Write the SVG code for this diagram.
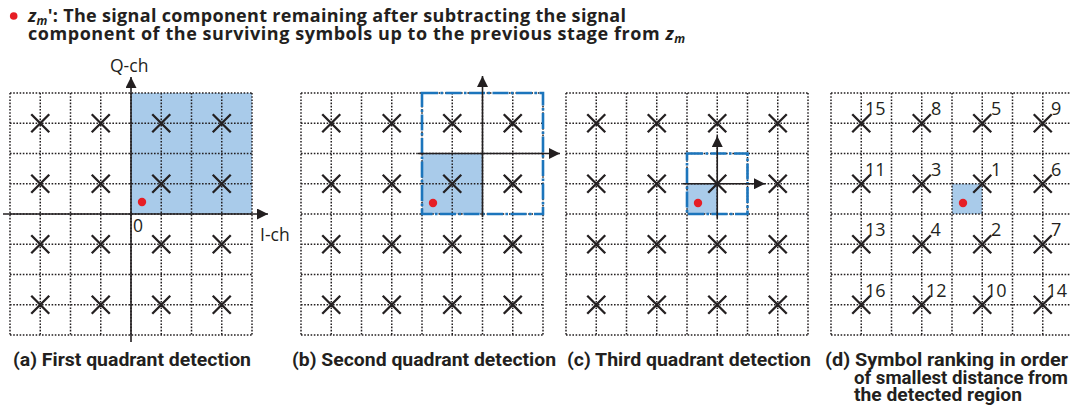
<svg xmlns="http://www.w3.org/2000/svg" xmlns:xlink="http://www.w3.org/1999/xlink" width="1070" height="415" viewBox="0 0 1070 415">
<style>
.grid{fill:none;stroke:#231f20;stroke-width:1.5;stroke-dasharray:1.6 1.6}
.sym{fill:none;stroke:#231f20;stroke-width:2.3}
.shade{fill:#a9cbea}
.sel{fill:none;stroke:#1c75bc;stroke-width:2.6;stroke-dasharray:16 2.5 2.5 2.5}
.axis{fill:none;stroke:#231f20;stroke-width:1.6}
.dot{fill:#e61e25}
.hdr{font-family:"Open Sans","Liberation Sans",sans-serif;font-weight:bold;font-size:18px;fill:#231f20}
.it{font-style:italic}
.sub{font-style:italic;font-size:12px}
.ax{font-family:"Open Sans","Liberation Sans",sans-serif;font-size:17.5px;fill:#231f20}
.num{font-family:"Open Sans","Liberation Sans",sans-serif;font-size:18px;fill:#231f20}
.cap{font-family:Roboto,"Liberation Sans",sans-serif;font-weight:bold;font-size:18px;fill:#231f20}
</style>
<defs>
<marker id="ah" viewBox="0 0 11 11" refX="11" refY="5.5" markerWidth="11" markerHeight="11" orient="auto" markerUnits="userSpaceOnUse"><path d="M0,0 L11,5.5 L0,11 z" fill="#231f20"/></marker>
<path id="grid" class="grid" d="M0,0V242M30.25,0V242M60.5,0V242M90.75,0V242M121,0V242M151.25,0V242M181.5,0V242M211.75,0V242M242,0V242M0,0H242M0,30.25H242M0,60.5H242M0,90.75H242M0,121H242M0,151.25H242M0,181.5H242M0,211.75H242M0,242H242"/>
<g id="syms">
<path class="sym" d="M21.25,21.25l18,18m0,-18l-18,18M81.75,21.25l18,18m0,-18l-18,18M142.25,21.25l18,18m0,-18l-18,18M202.75,21.25l18,18m0,-18l-18,18M21.25,81.75l18,18m0,-18l-18,18M81.75,81.75l18,18m0,-18l-18,18M142.25,81.75l18,18m0,-18l-18,18M202.75,81.75l18,18m0,-18l-18,18M21.25,142.25l18,18m0,-18l-18,18M81.75,142.25l18,18m0,-18l-18,18M142.25,142.25l18,18m0,-18l-18,18M202.75,142.25l18,18m0,-18l-18,18M21.25,202.75l18,18m0,-18l-18,18M81.75,202.75l18,18m0,-18l-18,18M142.25,202.75l18,18m0,-18l-18,18M202.75,202.75l18,18m0,-18l-18,18"/>
</g>
</defs>

<g id="header">
<circle class="dot" cx="13.7" cy="16" r="3.8"/>
<text class="hdr" x="28" y="22" textLength="598" lengthAdjust="spacing"><tspan class="it">z</tspan><tspan class="sub" dy="3">m</tspan><tspan dy="-3">': The signal component remaining after subtracting the signal</tspan></text>
<text class="hdr" x="28" y="40" textLength="657" lengthAdjust="spacing">component of the surviving symbols up to the previous stage from <tspan class="it">z</tspan><tspan class="sub" dy="3">m</tspan></text>
</g>

<g id="panel-a">
<rect class="shade" x="131" y="93" width="121" height="121"/>
<use xlink:href="#grid" x="10" y="93"/>
<use xlink:href="#syms" x="10" y="93"/>
<circle class="dot" cx="142" cy="202" r="4.2"/>
<text class="ax" x="110" y="72">Q-ch</text>
<text class="ax" x="133" y="232">0</text>
<text class="ax" x="260" y="241">I-ch</text>
</g>

<g id="panel-b">
<rect class="shade" x="422" y="153.5" width="60.5" height="60.5"/>
<use xlink:href="#grid" x="301" y="93"/>
<rect class="sel" x="422" y="93" width="121" height="121"/>
<use xlink:href="#syms" x="301" y="93"/>
<circle class="dot" cx="433" cy="203" r="4.2"/>
</g>

<g id="panel-c">
<rect class="shade" x="687" y="183.75" width="30.25" height="30.25"/>
<use xlink:href="#grid" x="566" y="93"/>
<rect class="sel" x="687" y="153.5" width="60.5" height="60.5"/>
<use xlink:href="#syms" x="566" y="93"/>
<circle class="dot" cx="698" cy="203" r="4.2"/>
</g>

<g id="panel-d">
<rect class="shade" x="952" y="183.75" width="30.25" height="30.25"/>
<use xlink:href="#grid" x="831" y="93"/>
<use xlink:href="#syms" x="831" y="93"/>
<circle class="dot" cx="963" cy="203" r="4.2"/>
<text class="num" x="865" y="115">15</text>
<text class="num" x="931" y="115">8</text>
<text class="num" x="991" y="115">5</text>
<text class="num" x="1051" y="115">9</text>
<text class="num" x="865" y="175.5">11</text>
<text class="num" x="931" y="175.5">3</text>
<text class="num" x="991" y="175.5">1</text>
<text class="num" x="1051" y="175.5">6</text>
<text class="num" x="865" y="236">13</text>
<text class="num" x="930.5" y="236">4</text>
<text class="num" x="991" y="236">2</text>
<text class="num" x="1051" y="236">7</text>
<text class="num" x="865" y="296.5">16</text>
<text class="num" x="926" y="296.5">12</text>
<text class="num" x="986" y="296.5">10</text>
<text class="num" x="1046.5" y="296.5">14</text>
</g>

<g id="connectors">
<line class="axis" x1="3" y1="214" x2="268" y2="214" marker-end="url(#ah)"/>
<line class="axis" x1="131" y1="342" x2="131" y2="77" marker-end="url(#ah)"/>
<line class="axis" x1="418" y1="153.5" x2="560" y2="153.5" marker-end="url(#ah)"/>
<line class="axis" x1="482.5" y1="217" x2="482.5" y2="76" marker-end="url(#ah)"/>
<line class="axis" x1="683" y1="183.75" x2="765" y2="183.75" marker-end="url(#ah)"/>
<line class="axis" x1="717.25" y1="218" x2="717.25" y2="136" marker-end="url(#ah)"/>
</g>

<g id="captions">
<text class="cap" x="13" y="366" textLength="238" lengthAdjust="spacingAndGlyphs">(a) First quadrant detection</text>
<text class="cap" x="292" y="366" textLength="264" lengthAdjust="spacingAndGlyphs">(b) Second quadrant detection</text>
<text class="cap" x="567" y="366" textLength="244" lengthAdjust="spacingAndGlyphs">(c) Third quadrant detection</text>
<text class="cap" x="825" y="366" textLength="243" lengthAdjust="spacingAndGlyphs">(d) Symbol ranking in order</text>
<text class="cap" x="854" y="383.5" textLength="214" lengthAdjust="spacingAndGlyphs">of smallest distance from</text>
<text class="cap" x="854" y="401" textLength="168" lengthAdjust="spacingAndGlyphs">the detected region</text>
</g>
</svg>
